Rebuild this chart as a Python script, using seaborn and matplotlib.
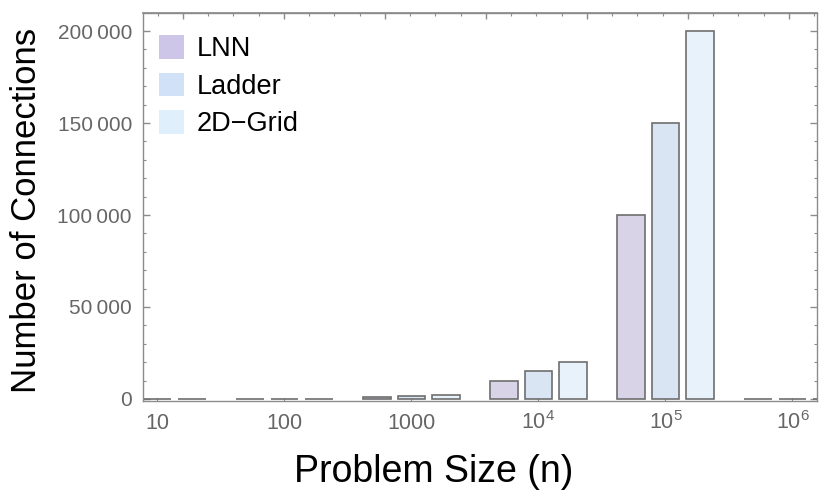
"""
Connections per topology vs. problem size (grouped bars)
"""

import numpy as np
import pandas as pd
import matplotlib
matplotlib.use('Agg')
import matplotlib.pyplot as plt
import seaborn as sns
from matplotlib.patches import Patch
from matplotlib.ticker import MultipleLocator, AutoMinorLocator, FuncFormatter

# data
sizes = ['10', '100', '1000', '1e4', '1e5', '1e6']
size_labels = ['10', '100', '1000', r'$\mathregular{10^4}$',
               r'$\mathregular{10^5}$', r'$\mathregular{10^6}$']
topologies = ['LNN', 'Ladder', '2D\u2212Grid']
lnn = [10, 100, 1000, 10000, 100000, 0]
ladder = [15, 150, 1500, 15000, 150000, 0]
grid = [20, 200, 2000, 20000, 200000, 0]

bar_colors = ['#d8d0ea', '#d6e5f8', '#e4f2fd']
legend_colors = ['#cec6e8', '#d1e1f7', '#dff0fc']

sns.set_theme(style='white')
plt.rcParams['font.family'] = ['Liberation Sans', 'DejaVu Sans']
plt.rcParams['mathtext.fontset'] = 'custom'
plt.rcParams['mathtext.rm'] = 'Liberation Sans'
plt.rcParams['mathtext.it'] = 'Liberation Sans:italic'

df = pd.DataFrame({
    'size': sizes * 3,
    'topology': np.repeat(topologies, len(sizes)),
    'connections': lnn + ladder + grid,
})

fig = plt.figure(figsize=(8.3, 4.95), dpi=100)
ax = fig.add_axes([143 / 830, 1 - 401 / 495, 674 / 830, 388 / 495])

sns.barplot(
    data=df, x='size', y='connections', hue='topology',
    order=sizes, hue_order=topologies, palette=bar_colors,
    width=0.815, gap=0.19, errorbar=None,
    edgecolor='#6e6e6e', linewidth=1.2, ax=ax, legend=False
)

ax.set_xlim(-0.114, 5.193)
ax.set_ylim(-1100, 209800)
ax.set_xlabel('')
ax.set_ylabel('')

# frame
for sp in ax.spines.values():
    sp.set_color('#8c8c8c')
    sp.set_linewidth(1.0)
    sp.set_visible(True)

tick_gray = '#666666'
ax.yaxis.set_major_locator(MultipleLocator(50000))
ax.yaxis.set_minor_locator(MultipleLocator(10000))
ax.yaxis.set_major_formatter(FuncFormatter(lambda v, p: f'{int(v):,}'.replace(',', '\u2009')))
ax.tick_params(axis='y', which='both', direction='in', left=True, right=True,
               color='#8c8c8c', labelcolor=tick_gray, labelsize=15, pad=8)
ax.tick_params(axis='y', which='major', length=5, width=1)
ax.tick_params(axis='y', which='minor', length=2.5, width=0.8)

ax.set_xticks(range(len(sizes)))
ax.set_xticklabels(size_labels)
ax.tick_params(axis='x', which='major', direction='in', bottom=True, length=2.5,
               width=0.8, color='#8c8c8c', labelcolor=tick_gray, labelsize=15.5, pad=20)
for lab in ax.get_xticklabels():
    lab.set_verticalalignment('baseline')

# top frame ticks (linear, unlabeled)
top = ax.secondary_xaxis('top', functions=(lambda x: (x - 0.996) / 0.7953,
                                           lambda u: u * 0.7953 + 0.996))
top.xaxis.set_major_locator(MultipleLocator(1))
top.xaxis.set_minor_locator(AutoMinorLocator(4))
top.tick_params(which='both', direction='in', color='#8c8c8c', labeltop=False)
top.tick_params(which='major', length=4, width=1)
top.tick_params(which='minor', length=2.5, width=0.8)
top.spines['top'].set_color('#8c8c8c')

handles = [Patch(facecolor=c, edgecolor='none', label=t)
           for c, t in zip(legend_colors, topologies)]
leg = ax.legend(handles=handles, loc='upper left', bbox_to_anchor=(0.024, 0.943),
                frameon=False, fontsize=19.5, handlelength=0.93, handleheight=0.97,
                handletextpad=0.45, labelspacing=0.38, borderaxespad=0, borderpad=0)
for t in leg.get_texts():
    t.set_color('black')

fig.text(26 / 830, 1 - 210 / 495, 'Number of Connections', rotation=90,
         ha='center', va='center', fontsize=25, color='black')
fig.text(434 / 830, 1 - 482 / 495, 'Problem Size (n)', ha='center',
         va='baseline', fontsize=27, color='black')

fig.savefig('out.png', dpi=100)
